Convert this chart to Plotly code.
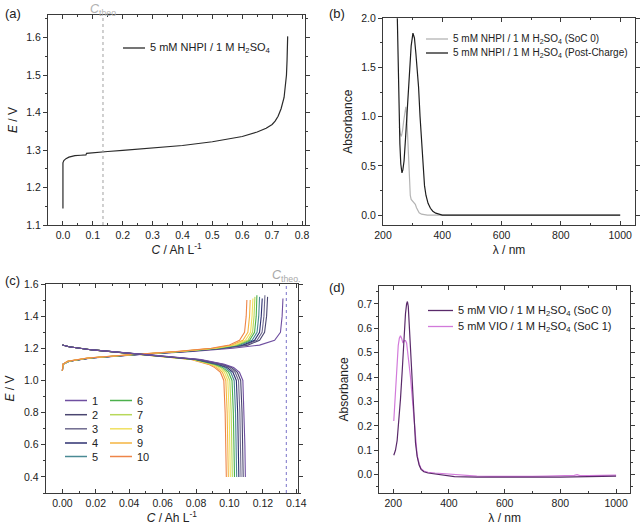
import plotly.graph_objects as go

# ---------------- data ----------------
# (a) charge curve 5 mM NHPI
a_C = [0, 0, 0.003, 0.01, 0.02, 0.04, 0.06, 0.077, 0.079, 0.1, 0.15, 0.2, 0.3, 0.4, 0.5, 0.55,
       0.6, 0.65, 0.68, 0.7, 0.71, 0.72, 0.73, 0.74, 0.745, 0.748, 0.750, 0.752]
a_E = [1.144, 1.266, 1.272, 1.277, 1.281, 1.285, 1.286, 1.287, 1.291, 1.293, 1.296, 1.299, 1.306,
       1.312, 1.322, 1.328, 1.336, 1.348, 1.358, 1.368, 1.377, 1.39, 1.41, 1.44, 1.47, 1.50, 1.54, 1.603]
C_theo = 0.134

# (b) UV-vis NHPI
b_lam_soc0 = [255, 258, 262, 266, 270, 274, 277, 280, 283, 286, 289, 292, 295, 300, 305, 309, 313,
              317, 322, 330, 340, 350, 1000]
b_abs_soc0 = [0.9, 0.83, 0.8, 0.86, 0.96, 1.06, 1.1, 1.02, 0.8, 0.55, 0.35, 0.2, 0.16, 0.145, 0.13,
              0.11, 0.075, 0.045, 0.025, 0.01, 0.003, 0.0, 0.0]
b_lam_post = [248, 250, 252, 254, 257, 260, 264, 267, 271, 276, 281, 286, 290, 295, 301, 306, 311,
              315, 320, 325, 330, 335, 340, 345, 352, 360, 368, 378, 388, 400, 600, 800, 1000]
b_abs_post = [2.05, 1.75, 1.3, 1.0, 0.72, 0.52, 0.43, 0.46, 0.55, 0.78, 1.0, 1.25, 1.5, 1.72, 1.85,
              1.8, 1.64, 1.5, 1.3, 1.0, 0.72, 0.48, 0.3, 0.2, 0.12, 0.07, 0.04, 0.02, 0.008, 0.0,
              0.0, 0.0, 0.0]

# (c) cycling, 10 cycles
cycles = ["1", "2", "3", "4", "5", "6", "7", "8", "9", "10"]
cycle_colors = ["#6f4fa0", "#4a4670", "#6e6a8e", "#2e3070", "#4a8a94",
                "#4cb04c", "#b8d85a", "#f0e060", "#f5b440", "#ee8548"]
charge_E = [1.06, 1.10, 1.12, 1.14, 1.16, 1.18, 1.20, 1.22, 1.25, 1.30, 1.40]
charge_E_end = [1.51, 1.52, 1.53, 1.51, 1.52, 1.53, 1.52, 1.51, 1.50, 1.50]
charge_C = [
    [0, 0.0003, 0.004, 0.018, 0.045, 0.078, 0.102, 0.118, 0.127, 0.1305, 0.1315, 0.1320],
    [0, 0.0003, 0.004, 0.017, 0.044, 0.075, 0.097, 0.111, 0.118, 0.121, 0.1222, 0.1228],
    [0, 0.0003, 0.004, 0.017, 0.043, 0.074, 0.096, 0.109, 0.1165, 0.1195, 0.1206, 0.1212],
    [0, 0.0003, 0.004, 0.017, 0.043, 0.073, 0.095, 0.108, 0.115, 0.118, 0.119, 0.1196],
    [0, 0.0003, 0.004, 0.016, 0.042, 0.072, 0.094, 0.1065, 0.1135, 0.1165, 0.1175, 0.118],
    [0, 0.0003, 0.0035, 0.016, 0.042, 0.071, 0.093, 0.105, 0.112, 0.115, 0.116, 0.1164],
    [0, 0.0003, 0.0035, 0.016, 0.041, 0.070, 0.092, 0.104, 0.111, 0.1138, 0.1147, 0.1152],
    [0, 0.0003, 0.0035, 0.015, 0.041, 0.070, 0.091, 0.103, 0.1095, 0.1126, 0.1135, 0.114],
    [0, 0.0003, 0.003, 0.015, 0.040, 0.069, 0.090, 0.1015, 0.108, 0.111, 0.112, 0.1124],
    [0, 0.0003, 0.003, 0.015, 0.040, 0.068, 0.089, 0.100, 0.106, 0.109, 0.1100, 0.1104],
]
discharge_E = [1.22, 1.21, 1.19, 1.17, 1.15, 1.13, 1.10, 1.08, 1.05, 1.00, 0.80, 0.60, 0.40]
discharge_C = [
    [0, 0.004, 0.018, 0.038, 0.062, 0.083, 0.097, 0.1025, 0.1060, 0.1080, 0.1088, 0.1092, 0.1095],
    [0, 0.004, 0.018, 0.038, 0.062, 0.082, 0.096, 0.1012, 0.1047, 0.1067, 0.1075, 0.1079, 0.1082],
    [0, 0.004, 0.018, 0.038, 0.061, 0.081, 0.0945, 0.0999, 0.1034, 0.1054, 0.1062, 0.1066, 0.1069],
    [0, 0.004, 0.018, 0.038, 0.061, 0.080, 0.0935, 0.0986, 0.1021, 0.1041, 0.1049, 0.1053, 0.1056],
    [0, 0.004, 0.018, 0.038, 0.061, 0.080, 0.0925, 0.0973, 0.1008, 0.1028, 0.1036, 0.1040, 0.1043],
    [0, 0.004, 0.018, 0.038, 0.060, 0.079, 0.0915, 0.0960, 0.0995, 0.1015, 0.1023, 0.1027, 0.1030],
    [0, 0.004, 0.018, 0.038, 0.060, 0.079, 0.0905, 0.0948, 0.0982, 0.1002, 0.1010, 0.1014, 0.1017],
    [0, 0.004, 0.018, 0.038, 0.060, 0.078, 0.0895, 0.0936, 0.0970, 0.0990, 0.0998, 0.1002, 0.1005],
    [0, 0.004, 0.018, 0.038, 0.060, 0.078, 0.0885, 0.0924, 0.0958, 0.0978, 0.0986, 0.0990, 0.0993],
    [0, 0.004, 0.018, 0.038, 0.059, 0.077, 0.0875, 0.0912, 0.0946, 0.0966, 0.0974, 0.0978, 0.0981],
]

# (d) UV-vis VIO
d_lam_soc0 = [202, 208, 214, 220, 226, 232, 238, 244, 248, 251, 254, 258, 262, 268, 274, 280, 286,
              293, 300, 310, 325, 350, 380, 420, 500, 600, 700, 760, 800, 900, 1000]
d_abs_soc0 = [0.08, 0.1, 0.14, 0.21, 0.31, 0.42, 0.55, 0.66, 0.70, 0.71, 0.69, 0.6, 0.48, 0.34,
              0.21, 0.13, 0.074, 0.04, 0.022, 0.012, 0.007, 0.003, -0.004, -0.008, -0.01, -0.011,
              -0.011, -0.012, -0.01, -0.008, -0.006]
d_lam_soc1 = [202, 207, 212, 218, 222, 226, 230, 235, 240, 244, 248, 252, 256, 262, 268, 274, 280,
              286, 293, 300, 310, 325, 350, 380, 400, 430, 470, 500, 550, 600, 650, 700, 750, 800,
              850, 860, 870, 900, 950, 1000]
d_abs_soc1 = [0.22, 0.33, 0.44, 0.53, 0.56, 0.57, 0.56, 0.54, 0.55, 0.55, 0.54, 0.51, 0.46, 0.40,
              0.32, 0.21, 0.13, 0.08, 0.045, 0.025, 0.015, 0.01, 0.007, 0.004, 0.003, 0.002,
              -0.002, -0.006, -0.007, -0.008, -0.006, -0.007, -0.006, -0.005, -0.003, 0.0,
              -0.004, -0.004, -0.003, -0.002]

# ---------------- figure ----------------
FONT = "Liberation Sans, Arial, sans-serif"
AX = "#3a3a3a"
W, H = 640, 526


def px(x):
    return x / W


def py(y):
    return 1 - y / H


fig = go.Figure()

# (a)
fig.add_trace(go.Scatter(x=a_C, y=a_E, mode="lines", line=dict(color="#2a2a2a", width=1.2),
                         xaxis="x", yaxis="y", showlegend=False))
# (b)
fig.add_trace(go.Scatter(x=b_lam_soc0, y=b_abs_soc0, mode="lines",
                         line=dict(color="#b4b4b4", width=1.2), xaxis="x2", yaxis="y2",
                         showlegend=False))
fig.add_trace(go.Scatter(x=b_lam_post, y=b_abs_post, mode="lines",
                         line=dict(color="#1e1e1e", width=1.2), xaxis="x2", yaxis="y2",
                         showlegend=False))
# (c)
for i in range(len(cycles)):
    fig.add_trace(go.Scatter(x=charge_C[i], y=charge_E + [charge_E_end[i]], mode="lines",
                             line=dict(color=cycle_colors[i], width=1.1), xaxis="x3", yaxis="y3",
                             showlegend=False))
for i in reversed(range(len(cycles))):
    fig.add_trace(go.Scatter(x=discharge_C[i], y=discharge_E, mode="lines",
                             line=dict(color=cycle_colors[i], width=1.1), xaxis="x3", yaxis="y3",
                             showlegend=False))
# (d)
fig.add_trace(go.Scatter(x=d_lam_soc1, y=d_abs_soc1, mode="lines",
                         line=dict(color="#d27ada", width=1.2), xaxis="x4", yaxis="y4",
                         showlegend=False))
fig.add_trace(go.Scatter(x=d_lam_soc0, y=d_abs_soc0, mode="lines",
                         line=dict(color="#5a2a6a", width=1.2), xaxis="x4", yaxis="y4",
                         showlegend=False))


def xax(domain, rng, dtick, fmt, title, anchor, minor_dtick):
    return dict(domain=domain, range=rng, dtick=dtick, tick0=0, tickformat=fmt, anchor=anchor,
                automargin=False,
                showline=True, linecolor=AX, linewidth=1, mirror="ticks", ticks="inside",
                ticklen=4, tickcolor=AX, showgrid=False, zeroline=False,
                tickfont=dict(family=FONT, size=10.5, color="#222"),
                minor=dict(ticks="inside", ticklen=2, dtick=minor_dtick, tickcolor=AX,
                           showgrid=False),
                title=dict(text=title, font=dict(family=FONT, size=12, color="#222"), standoff=6))


def yax(domain, rng, dtick, fmt, title, anchor, minor_dtick):
    return dict(domain=domain, range=rng, dtick=dtick, tick0=0, tickformat=fmt, anchor=anchor,
                automargin=False,
                showline=True, linecolor=AX, linewidth=1, mirror="ticks", ticks="outside",
                ticklen=4, tickcolor=AX, showgrid=False, zeroline=False,
                tickfont=dict(family=FONT, size=10.5, color="#222"),
                minor=dict(ticks="outside", ticklen=2, dtick=minor_dtick, tickcolor=AX,
                           showgrid=False),
                title=dict(text=title, font=dict(family=FONT, size=12, color="#222"), standoff=6))


layout = dict(
    template="none",
    width=W, height=H, margin=dict(l=0, r=0, t=0, b=0, autoexpand=False),
    paper_bgcolor="white", plot_bgcolor="white",
    font=dict(family=FONT, color="#222"),
    xaxis=xax([px(48), px(305)], [-0.05, 0.81], 0.1, ".1f", "<i>C</i> / Ah L<sup>-1</sup>", "y", 0.05),
    yaxis=yax([py(225), py(15)], [1.1, 1.66], 0.1, ".1f", "<i>E</i> / V", "x", 0.05),
    xaxis2=xax([px(383), px(635)], [200, 1050], 200, "d", "λ / nm", "y2", 100),
    yaxis2=yax([py(225), py(18.3)], [-0.1, 2.0], 0.5, ".1f", "Absorbance", "x2", 0.25),
    xaxis3=xax([px(45.7), px(298)], [-0.01, 0.141], 0.02, ".2f", "<i>C</i> / Ah L<sup>-1</sup>", "y3", 0.01),
    yaxis3=yax([py(493), py(284)], [0.3, 1.6], 0.2, ".1f", "<i>E</i> / V", "x3", 0.1),
    xaxis4=xax([px(379.3), px(630)], [150, 1050], 200, "d", "λ / nm", "y4", 100),
    yaxis4=yax([py(493), py(285.7)], [-0.075, 0.775], 0.1, ".1f", "Absorbance", "x4", 0.05),
)
fig.update_layout(**layout)

# theoretical capacity lines
fig.add_shape(type="line", xref="x", yref="y domain", x0=C_theo, x1=C_theo, y0=0, y1=1,
              line=dict(color="#a0a0a0", width=1, dash="dot"))
fig.add_shape(type="line", xref="x3", yref="y3 domain", x0=C_theo, x1=C_theo, y0=0, y1=1,
              line=dict(color="#7a72c8", width=1, dash="dot"))

ann = []
for lab, x, y in [("(a)", 3, 13), ("(b)", 327, 13), ("(c)", 3, 280), ("(d)", 327, 287)]:
    ann.append(dict(text=lab, x=px(x), y=py(y), xref="paper", yref="paper", xanchor="left",
                    yanchor="middle", showarrow=False, font=dict(family=FONT, size=13, color="#222")))
ann.append(dict(text="<i>C</i><sub>theo</sub>", x=C_theo, xref="x", y=py(10), yref="paper",
                xanchor="center", yanchor="middle", showarrow=False,
                font=dict(family=FONT, size=12.5, color="#b0b0b0")))
ann.append(dict(text="<i>C</i><sub>theo.</sub>", x=C_theo, xref="x3", y=py(276), yref="paper",
                xanchor="center", yanchor="middle", showarrow=False,
                font=dict(family=FONT, size=12.5, color="#a8a8a8")))


def legend_item(x0, x1, y, color, text, width=1.3, size=10.5):
    fig.add_shape(type="line", xref="paper", yref="paper", x0=px(x0), x1=px(x1), y0=py(y), y1=py(y),
                  line=dict(color=color, width=width))
    ann.append(dict(text=text, x=px(x1 + 3), y=py(y), xref="paper", yref="paper", xanchor="left",
                    yanchor="middle", showarrow=False,
                    font=dict(family=FONT, size=size, color="#222")))


legend_item(123, 145, 48, "#2a2a2a", "5 mM NHPI / 1 M H<sub>2</sub>SO<sub>4</sub>", size=11)
legend_item(426, 448, 39, "#b4b4b4", "5 mM NHPI / 1 M H<sub>2</sub>SO<sub>4</sub> (SoC 0)", size=10)
legend_item(426, 448, 53, "#1e1e1e", "5 mM NHPI / 1 M H<sub>2</sub>SO<sub>4</sub> (Post-Charge)", size=10)
legend_item(428, 453, 310.5, "#5a2a6a", "5 mM VIO / 1 M H<sub>2</sub>SO<sub>4</sub> (SoC 0)", size=11)
legend_item(428, 453, 326.5, "#d27ada", "5 mM VIO / 1 M H<sub>2</sub>SO<sub>4</sub> (SoC 1)", size=11)
rows_y = [400.5, 414.7, 428.8, 443, 456.5]
for i in range(len(cycles)):
    col = i // 5
    r = i % 5
    x0 = 65 if col == 0 else 110
    legend_item(x0, x0 + 22, rows_y[r], cycle_colors[i], cycles[i], width=1.5, size=11)

fig.update_layout(annotations=ann)
fig.write_html("out.html", config={"displayModeBar": False},
               post_script="document.body.style.margin='0';document.body.style.overflow='hidden';")
